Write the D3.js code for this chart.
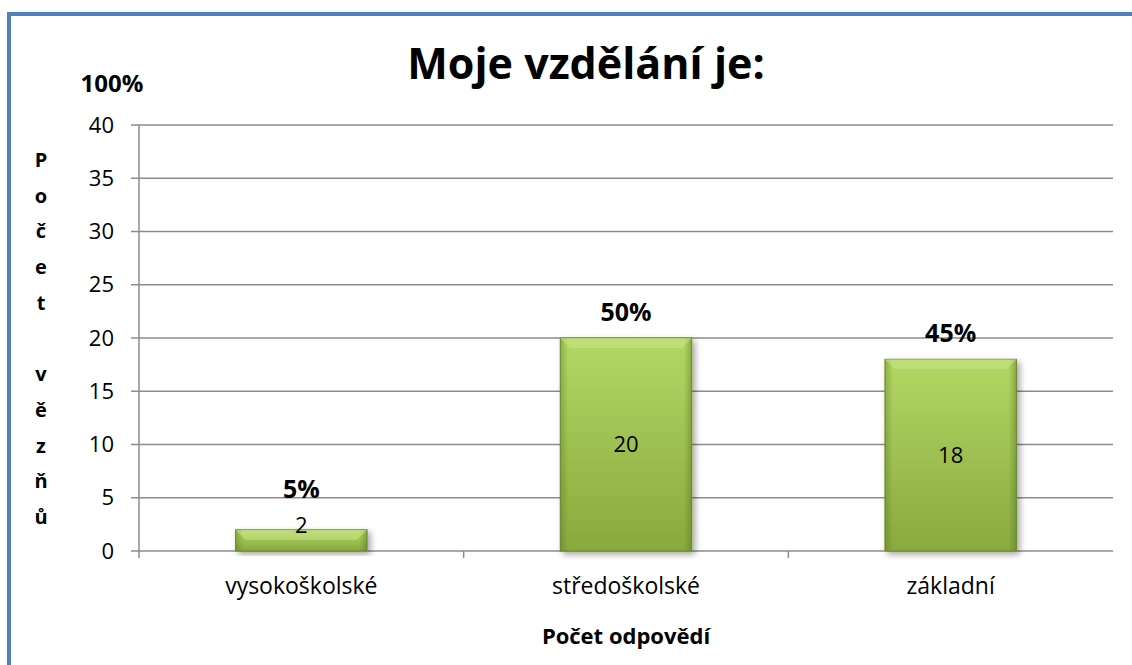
<!DOCTYPE html>
<html>
<head>
<meta charset="utf-8">
<script src="https://cdnjs.cloudflare.com/ajax/libs/d3/7.8.5/d3.min.js"></script>
<style>
  body { margin: 0; background: #fff; }
  svg text { font-family: "Open Sans", sans-serif; fill: #000; }
</style>
</head>
<body>
<div id="chart"></div>
<script>
// data
const kategorie = ['vysokoškolské', 'středoškolské', 'základní'];
const pocty = [2, 20, 18];
const procenta = ['5%', '50%', '45%'];
const yTicks = [0, 5, 10, 15, 20, 25, 30, 35, 40];
const yLabelPismena = ['P', 'o', 'č', 'e', 't', '', 'v', 'ě', 'z', 'ň', 'ů'];

const svgWidth = 1132;
const svgHeight = 665;
const margin = { top: 125, right: 19, bottom: 114, left: 139 };
const width = svgWidth - margin.left - margin.right;
const height = svgHeight - margin.top - margin.bottom;

const root = d3.select('#chart')
  .append('svg')
  .attr('width', svgWidth)
  .attr('height', svgHeight);

const defs = root.append('defs');
const grad = defs.append('linearGradient')
  .attr('id', 'barGrad')
  .attr('x1', 0).attr('y1', 0).attr('x2', 0).attr('y2', 1);
grad.append('stop').attr('offset', '0%').attr('stop-color', '#b3d765');
grad.append('stop').attr('offset', '100%').attr('stop-color', '#8aa93e');

const sideGrad = defs.append('linearGradient')
  .attr('id', 'sideGrad')
  .attr('x1', 0).attr('y1', 0).attr('x2', 1).attr('y2', 0);
sideGrad.append('stop').attr('offset', '0%').attr('stop-color', '#4d6a1a').attr('stop-opacity', 0.35);
sideGrad.append('stop').attr('offset', '6%').attr('stop-color', '#4d6a1a').attr('stop-opacity', 0);
sideGrad.append('stop').attr('offset', '94%').attr('stop-color', '#4d6a1a').attr('stop-opacity', 0);
sideGrad.append('stop').attr('offset', '100%').attr('stop-color', '#4d6a1a').attr('stop-opacity', 0.4);

const shadow = defs.append('filter')
  .attr('id', 'shadow')
  .attr('x', '-10%').attr('y', '-10%').attr('width', '130%').attr('height', '130%');
shadow.append('feDropShadow')
  .attr('dx', 3).attr('dy', 3).attr('stdDeviation', 3)
  .attr('flood-color', '#000').attr('flood-opacity', 0.35);

// ramecek
root.append('rect')
  .attr('x', 9).attr('y', 14)
  .attr('width', svgWidth + 20).attr('height', svgHeight + 20)
  .attr('fill', 'none')
  .attr('stroke', '#4f81bd')
  .attr('stroke-width', 4);

const svg = root.append('g')
  .attr('transform', `translate(${margin.left},${margin.top})`);

const xScale = d3.scaleBand()
  .domain(kategorie)
  .range([0, width])
  .padding(0);

const yScale = d3.scaleLinear()
  .domain([0, 40])
  .range([height, 0]);

// mrizka
svg.selectAll('.grid')
  .data(yTicks)
  .enter().append('line')
  .attr('class', 'grid')
  .attr('x1', -8)
  .attr('x2', width)
  .attr('y1', d => yScale(d))
  .attr('y2', d => yScale(d))
  .attr('stroke', '#8c8c8c')
  .attr('stroke-width', 1.5);

// osa Y
const yAxis = svg.append('g')
  .attr('class', 'y-axis')
  .call(d3.axisLeft(yScale).tickValues(yTicks).tickSize(0).tickPadding(25));
yAxis.select('.domain').remove();
yAxis.selectAll('text')
  .style('font-size', '22px');

svg.append('line')
  .attr('x1', 0).attr('x2', 0)
  .attr('y1', 0).attr('y2', height + 7)
  .attr('stroke', '#8c8c8c')
  .attr('stroke-width', 1.5);

// znacky mezi kategoriemi
svg.selectAll('.xtick')
  .data(kategorie.slice(1))
  .enter().append('line')
  .attr('class', 'xtick')
  .attr('x1', d => xScale(d))
  .attr('x2', d => xScale(d))
  .attr('y1', height)
  .attr('y2', height + 7)
  .attr('stroke', '#8c8c8c')
  .attr('stroke-width', 1.5);

// osa X popisky
const xAxis = svg.append('g')
  .attr('class', 'x-axis')
  .attr('transform', `translate(0,${height})`)
  .call(d3.axisBottom(xScale).tickSize(0).tickPadding(27));
xAxis.select('.domain').remove();
xAxis.selectAll('text')
  .style('font-size', '23px');

// sloupce
const barW = xScale.bandwidth() * 0.405;
const barX = d => xScale(d) + (xScale.bandwidth() - barW) / 2;

const bars = svg.selectAll('.bar')
  .data(kategorie.map((k, i) => ({ k, v: pocty[i], p: procenta[i] })))
  .enter().append('g')
  .attr('class', 'bar');

bars.append('rect')
  .attr('x', d => barX(d.k))
  .attr('y', d => yScale(d.v))
  .attr('width', barW)
  .attr('height', d => height - yScale(d.v))
  .attr('fill', 'url(#barGrad)')
  .attr('stroke', '#6f8f2c')
  .attr('stroke-width', 1)
  .attr('filter', 'url(#shadow)');

bars.append('rect')
  .attr('x', d => barX(d.k))
  .attr('y', d => yScale(d.v))
  .attr('width', barW)
  .attr('height', d => height - yScale(d.v))
  .attr('fill', 'url(#sideGrad)');

// horni zkoseni
bars.append('path')
  .attr('d', d => {
    const x0 = barX(d.k), y0 = yScale(d.v), b = Math.min(10, (height - yScale(d.v)) / 2);
    return `M${x0},${y0} L${x0 + barW},${y0} L${x0 + barW - b},${y0 + b} L${x0 + b},${y0 + b} Z`;
  })
  .attr('fill', '#c9e68a')
  .attr('opacity', 0.55);

const innerY = d => Math.min((yScale(d.v) + height) / 2, height - 26);

bars.append('text')
  .attr('x', d => barX(d.k) + barW / 2)
  .attr('y', d => innerY(d))
  .attr('dy', '0.35em')
  .attr('text-anchor', 'middle')
  .style('font-size', '22px')
  .text(d => d.v);

bars.append('text')
  .attr('x', d => barX(d.k) + barW / 2)
  .attr('y', d => Math.min(yScale(d.v) - 26, innerY(d) - 36))
  .attr('dy', '0.35em')
  .attr('text-anchor', 'middle')
  .style('font-size', '25px')
  .style('font-weight', 'bold')
  .text(d => d.p);

// titulek
root.append('text')
  .attr('x', 586)
  .attr('y', 64)
  .attr('dy', '0.35em')
  .attr('text-anchor', 'middle')
  .style('font-size', '43px')
  .style('font-weight', 'bold')
  .text('Moje vzdělání je:');

root.append('text')
  .attr('x', 112)
  .attr('y', 84)
  .attr('dy', '0.35em')
  .attr('text-anchor', 'middle')
  .style('font-size', '24px')
  .style('font-weight', 'bold')
  .text('100%');

// popisek osy Y po pismenech
root.append('g')
  .selectAll('text')
  .data(yLabelPismena)
  .enter().append('text')
  .attr('x', 41)
  .attr('y', (d, i) => 160 + i * 35.7)
  .attr('dy', '0.35em')
  .attr('text-anchor', 'middle')
  .style('font-size', '20px')
  .style('font-weight', 'bold')
  .text(d => d);

// popisek osy X
root.append('text')
  .attr('x', margin.left + width / 2)
  .attr('y', 636)
  .attr('dy', '0.35em')
  .attr('text-anchor', 'middle')
  .style('font-size', '22px')
  .style('font-weight', 'bold')
  .text('Počet odpovědí');
</script>
</body>
</html>
